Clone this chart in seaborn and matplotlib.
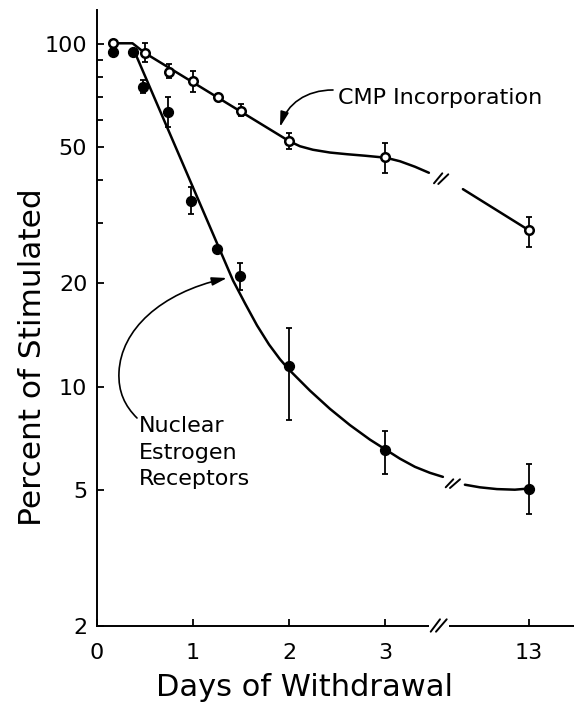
import numpy as np
import matplotlib
matplotlib.use("Agg")
import matplotlib.pyplot as plt
import seaborn as sns
from matplotlib.path import Path
from matplotlib.patches import FancyArrowPatch, Rectangle
from matplotlib.lines import Line2D
from matplotlib.ticker import FixedLocator, FixedFormatter, NullFormatter, NullLocator

# ---------------- data ----------------
# CMP incorporation (open circles)
cmp_days = [0.17, 0.5, 0.75, 1.0, 1.26, 1.5, 2.0, 3.0, 13]
cmp_pct = [100.5, 94.1, 82.8, 78.0, 70.0, 63.7, 52.1, 46.7, 28.6]
cmp_hi = [None, 100.7, 87.4, 83.4, None, 66.8, 54.9, 51.3, 31.2]
cmp_lo = [None, 88.6, 79.5, 72.4, None, 61.6, 49.3, 41.9, 25.5]

# Nuclear estrogen receptors (filled circles)
nuc_days = [0.17, 0.38, 0.48, 0.74, 0.98, 1.25, 1.49, 2.0, 3.0, 13]
nuc_pct = [94.8, 95.0, 74.9, 63.3, 34.8, 25.2, 21.0, 11.5, 6.55, 5.04]
nuc_hi = [None, None, 78.5, 70.0, 38.2, None, 22.9, 14.8, 7.44, 5.93]
nuc_lo = [None, None, 71.9, 57.2, 32.0, None, 19.2, 7.97, 5.55, 4.26]

# hand-drawn fitted curves (knots), split at the axis break
cmp_curve_days_a = [0.17, 0.37, 0.5, 2.0, 2.115, 2.25, 2.427, 2.604, 2.792, 3.01,
                    3.156, 3.313, 3.458]
cmp_curve_pct_a = [100.5, 100.5, 94.1, 52.1, 50.3, 49.13, 48.22, 47.68, 47.2, 46.57,
                   45.48, 43.83, 42.09]
cmp_curve_days_b = [5.01, 13]
cmp_curve_pct_b = [37.7, 28.6]

nuc_curve_days_a = [0.375, 0.896, 1.417, 1.542, 1.667, 1.792, 1.906, 2.0, 2.219,
                    2.427, 2.635, 2.844, 3.01, 3.156, 3.313, 3.469, 3.604]
nuc_curve_pct_a = [97.3, 44.6, 20.41, 17.5, 15.09, 13.27, 12.02, 11.21, 9.73,
                   8.61, 7.72, 7.0, 6.54, 6.16, 5.83, 5.6, 5.45]
nuc_curve_days_b = [5.25, 7.07, 9.13, 11.3, 13]
nuc_curve_pct_b = [5.17, 5.08, 5.02, 5.0, 5.04]

x_ticks = [0, 1, 2, 3, 13]
x_ticklabels = ["0", "1", "2", "3", "13"]
y_ticks = [2, 5, 10, 20, 50, 100]
y_ticklabels = ["2", "5", "10", "20", "50", "100"]
y_minor = [30, 40, 60, 70, 80, 90]

# ---------------- figure ----------------
sns.set_style("ticks")
plt.rcParams["font.family"] = ["DejaVu Sans"]
plt.rcParams.update({"text.color": "black", "axes.labelcolor": "black",
                     "xtick.color": "black", "ytick.color": "black"})

W, H = 574, 703
fig = plt.figure(figsize=(W / 100, H / 100), dpi=100)
ax = fig.add_axes([97 / W, (H - 626) / H, (W - 97) / W, (626 - 10) / H])


def fx(x):
    return x / W


def fy(y):
    return 1 - y / H


# broken x scale: days > 3.7 are compressed so 13 days sits at 4.5
K = 3.7
R = (4.5 - K) / (13 - K)


def fwd(d):
    d = np.asarray(d, dtype=float)
    return np.where(d <= K, d, K + (d - K) * R)


def inv(p):
    p = np.asarray(p, dtype=float)
    return np.where(p <= K, p, K + (p - K) / R)


ax.set_xscale("function", functions=(fwd, inv))
ax.set_yscale("log")

LW = 1.8
for xs, ys in [(cmp_curve_days_a, cmp_curve_pct_a), (cmp_curve_days_b, cmp_curve_pct_b),
               (nuc_curve_days_a, nuc_curve_pct_a), (nuc_curve_days_b, nuc_curve_pct_b)]:
    sns.lineplot(x=xs, y=ys, ax=ax, color="black", lw=LW, sort=False, estimator=None,
                 zorder=2)


def errbars(days, pct, hi, lo):
    idx = [i for i in range(len(days)) if hi[i] is not None]
    x = np.array([days[i] for i in idx])
    y = np.array([pct[i] for i in idx])
    h = np.array([hi[i] for i in idx])
    l = np.array([lo[i] for i in idx])
    ax.errorbar(x, y, yerr=[y - l, h - y], fmt="none", ecolor="black",
                elinewidth=1.3, capsize=2.3, capthick=1.3, zorder=3)


errbars(cmp_days, cmp_pct, cmp_hi, cmp_lo)
errbars(nuc_days, nuc_pct, nuc_hi, nuc_lo)

sns.scatterplot(x=nuc_days, y=nuc_pct, ax=ax, color="black", edgecolor="black",
                s=50, linewidth=1, zorder=5)
sns.scatterplot(x=cmp_days, y=cmp_pct, ax=ax, color="white", edgecolor="black",
                s=38, linewidth=1.8, zorder=6)

ax.set_xlim(0, float(inv(4.97)))
ax.set_ylim(2, 125.7)

ax.xaxis.set_major_locator(FixedLocator(x_ticks))
ax.xaxis.set_major_formatter(FixedFormatter(x_ticklabels))
ax.xaxis.set_minor_locator(NullLocator())
ax.yaxis.set_major_locator(FixedLocator(y_ticks))
ax.yaxis.set_major_formatter(FixedFormatter(y_ticklabels))
ax.yaxis.set_minor_locator(FixedLocator(y_minor))
ax.yaxis.set_minor_formatter(NullFormatter())

sns.despine(ax=ax)
for s in ["left", "bottom"]:
    ax.spines[s].set_linewidth(1.4)
    ax.spines[s].set_color("black")

ax.tick_params(axis="both", which="both", direction="in", width=1.3, colors="black")
ax.tick_params(axis="y", which="major", length=5, labelsize=16, pad=7)
ax.tick_params(axis="y", which="minor", length=4.5)
ax.tick_params(axis="x", which="major", length=5, labelsize=16, pad=12)

ax.set_xlabel("Days of Withdrawal", fontsize=22)
ax.xaxis.set_label_coords((305 - 97) / 477, (626 - 673) / 616)
ax.set_ylabel("Percent of Stimulated", fontsize=22.5)
ax.yaxis.set_label_coords((47 - 97) / 477, (626 - 357) / 616)

# annotations
fig.text(fx(338), fy(104), "CMP Incorporation", fontsize=16, ha="left",
         va="baseline")
fig.text(fx(139), fy(485), "Nuclear\nEstrogen\nReceptors", fontsize=16, ha="left",
         va="baseline", linespacing=1.4, multialignment="left")


def px_path(pts, codes):
    return Path([(fx(x), fy(y)) for x, y in pts], codes)


cmp_arrow = FancyArrowPatch(
    path=px_path([(333, 90), (306, 90), (287, 104), (280, 127)],
                 [Path.MOVETO, Path.CURVE4, Path.CURVE4, Path.CURVE4]),
    arrowstyle="-|>,head_length=0.9,head_width=0.25", mutation_scale=10,
    lw=1.2, color="black", transform=fig.transFigure)
fig.add_artist(cmp_arrow)

nuc_arrow = FancyArrowPatch(
    path=px_path([(137, 418), (125, 406), (118, 392), (119, 372),
                  (121, 330), (160, 293), (227, 278)],
                 [Path.MOVETO, Path.CURVE4, Path.CURVE4, Path.CURVE4,
                  Path.CURVE4, Path.CURVE4, Path.CURVE4]),
    arrowstyle="-|>,head_length=0.9,head_width=0.25", mutation_scale=10,
    lw=1.2, color="black", transform=fig.transFigure)
fig.add_artist(nuc_arrow)

# break marks: axis and both curves
fig.add_artist(Rectangle((fx(428.5), fy(629)), (448.5 - 428.5) / W, 6 / H,
                         transform=fig.transFigure, facecolor="white",
                         edgecolor="none", zorder=3))
for (x0, y0, x1, y1) in [(430.7, 631.7, 440, 619.3), (436, 631.7, 446.7, 619.3),
                         (434, 183.3, 442.3, 173.3), (438.3, 184, 448.3, 174.3),
                         (445.7, 487.3, 453.3, 479.3), (450, 488, 460, 479.3)]:
    fig.add_artist(Line2D([fx(x0), fx(x1)], [fy(y0), fy(y1)], transform=fig.transFigure,
                          color="black", lw=1.4, zorder=4))

fig.savefig("out.png", dpi=100)
